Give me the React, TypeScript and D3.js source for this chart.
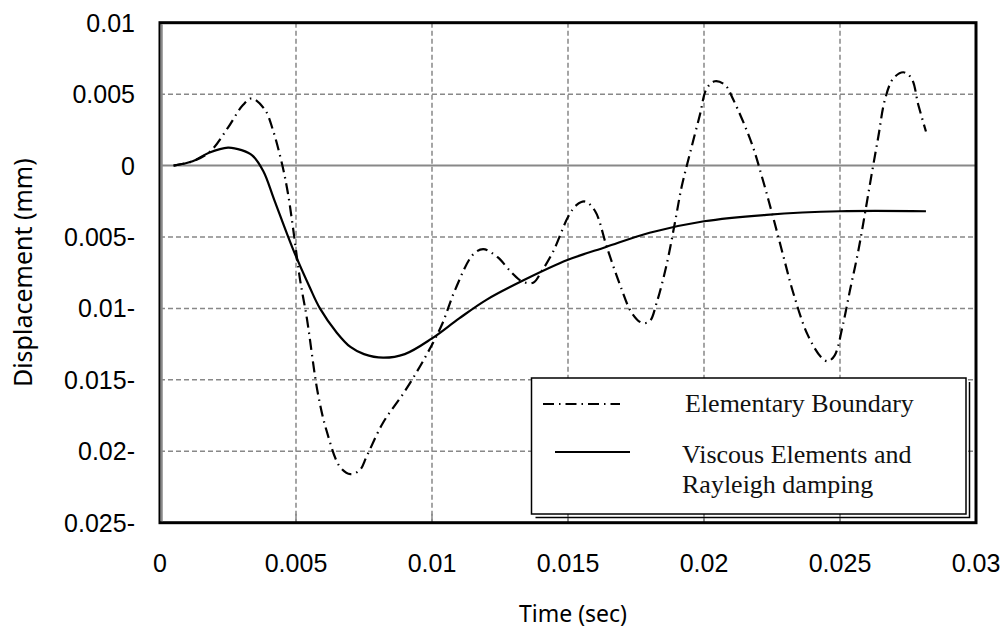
import React, { useEffect, useRef } from 'react'
import * as d3 from 'd3'

// time (sec) / displacement (mm)
const timeElementary = [
  0.0005, 0.0012, 0.00184, 0.0025, 0.00305, 0.00338, 0.00386, 0.00415, 0.0045, 0.0047,
  0.0049, 0.00515, 0.0054, 0.0058, 0.00613, 0.00662, 0.007, 0.00735, 0.0076, 0.0082,
  0.009, 0.00974, 0.01035, 0.01085, 0.0115, 0.01188, 0.0124, 0.01293, 0.0133, 0.01372,
  0.01403, 0.01446, 0.01501, 0.01532, 0.01563, 0.016, 0.01642, 0.01691, 0.01734, 0.01771,
  0.018, 0.01826, 0.01863, 0.01893, 0.01918, 0.01949, 0.01985, 0.0201, 0.0204, 0.02077,
  0.02108, 0.02175, 0.02218, 0.02255, 0.02292, 0.02328, 0.0238, 0.0243, 0.02455, 0.0248,
  0.0251, 0.02537, 0.02567, 0.02592, 0.02616, 0.02641, 0.02665, 0.02696, 0.02733, 0.02763,
  0.02788, 0.02816,
]
const dispElementary = [
  0, 0.0003, 0.00098, 0.00266, 0.00424, 0.0047, 0.0039, 0.0025, 0, -0.0019,
  -0.0045, -0.008, -0.0107, -0.0159, -0.0186, -0.0211, -0.0216, -0.0213, -0.02035, -0.018,
  -0.0158, -0.01345, -0.0112, -0.0087, -0.00625, -0.00585, -0.0064, -0.0075, -0.0081, -0.0082,
  -0.0074, -0.006, -0.00357, -0.00275, -0.00252, -0.0032, -0.00566, -0.00834, -0.0103, -0.011,
  -0.0109, -0.0096, -0.0069, -0.004, -0.00147, 0.0009, 0.00355, 0.0054, 0.0059, 0.00565,
  0.0046, 0.00157, -0.00112, -0.00368, -0.00636, -0.0089, -0.0118, -0.0134, -0.0137, -0.0133,
  -0.0112, -0.0087, -0.006, -0.00333, -0.00065, 0.00203, 0.0046, 0.0061, 0.00653, 0.0061,
  0.00424, 0.00238,
]

const timeViscous = [
  0.0005, 0.0012, 0.0018, 0.0025, 0.003, 0.0034, 0.0038, 0.0042, 0.0049, 0.0055,
  0.00588, 0.0065, 0.007, 0.0075, 0.0082, 0.009, 0.01, 0.011, 0.012, 0.0134,
  0.015, 0.0164, 0.018, 0.02, 0.0223, 0.025, 0.02816,
]
const dispViscous = [
  0, 0.0003, 0.0009, 0.00126, 0.00108, 0.0007, -0.0004, -0.0024, -0.0059, -0.0085,
  -0.01, -0.0117, -0.0127, -0.0132, -0.01345, -0.0132, -0.0121, -0.0107, -0.0094, -0.008,
  -0.0066, -0.0057, -0.0047, -0.0039, -0.00345, -0.0032, -0.0032,
]

const xTicks = [0, 0.005, 0.01, 0.015, 0.02, 0.025, 0.03]
const xTickLabels = ['0', '0.005', '0.01', '0.015', '0.02', '0.025', '0.03']
const yTicks = [0.01, 0.005, 0, -0.005, -0.01, -0.015, -0.02, -0.025]
const yTickLabels = ['0.01', '0.005', '0', '0.005-', '0.01-', '0.015-', '0.02-', '0.025-']

const legendLabels = ['Elementary Boundary', 'Viscous Elements and', 'Rayleigh damping']

const W = 1007
const H = 632
const DASHDOT = '11,5,1.5,5'

export default function App() {
  const svgRef = useRef<SVGSVGElement | null>(null)

  useEffect(() => {
    const svg = d3.select(svgRef.current!)
    svg.selectAll('*').remove()

    const x = d3.scaleLinear().domain([0, 0.03]).range([160, 976])
    const y = d3.scaleLinear().domain([-0.025, 0.01]).range([522.7, 22.7])
    const [x0, x1] = x.range()
    const [yb, yt] = y.range()

    svg.append('rect').attr('width', W).attr('height', H).attr('fill', '#fff')

    // grid
    const grid = svg.append('g').attr('stroke', '#888').attr('stroke-width', 1.5)
    grid.selectAll('.vg')
      .data(xTicks.slice(1, -1))
      .enter().append('line')
      .attr('x1', d => x(d)).attr('x2', d => x(d))
      .attr('y1', yt).attr('y2', yb)
      .attr('stroke-dasharray', '5,3')
    grid.selectAll('.hg')
      .data(yTicks.slice(1, -1).filter(d => d !== 0))
      .enter().append('line')
      .attr('x1', x0).attr('x2', x1)
      .attr('y1', d => y(d)).attr('y2', d => y(d))
      .attr('stroke-dasharray', '5,3')
    grid.append('line')
      .attr('x1', x0).attr('x2', x1)
      .attr('y1', y(0)).attr('y2', y(0))
      .attr('stroke-width', 2)
    // short solid ticks up from the bottom edge
    grid.selectAll('.bt')
      .data(xTicks.slice(1, -1))
      .enter().append('line')
      .attr('x1', d => x(d)).attr('x2', d => x(d))
      .attr('y1', yb - 9).attr('y2', yb)

    const pts = (ts: number[], vs: number[]) => ts.map((t, i) => [t, vs[i]] as [number, number])
    const line = d3.line<[number, number]>()
      .x(d => x(d[0])).y(d => y(d[1]))
      .curve(d3.curveCatmullRom.alpha(0.5))

    svg.append('path')
      .datum(pts(timeViscous, dispViscous))
      .attr('d', line)
      .attr('fill', 'none')
      .attr('stroke', '#000')
      .attr('stroke-width', 2.2)

    svg.append('path')
      .datum(pts(timeElementary, dispElementary))
      .attr('d', line)
      .attr('fill', 'none')
      .attr('stroke', '#000')
      .attr('stroke-width', 2.2)
      .attr('stroke-dasharray', DASHDOT)

    // legend
    const lg = svg.append('g')
    const lx0 = 531.5, lx1 = 966, ly0 = 378, ly1 = 514
    lg.append('path')
      .attr('d', `M${lx0 + 4},${ly1 + 3.5}H${lx1 + 3.5}V${ly0 + 4}`)
      .attr('fill', 'none').attr('stroke', '#000').attr('stroke-width', 1.5)
    lg.append('rect')
      .attr('x', lx0).attr('y', ly0)
      .attr('width', lx1 - lx0).attr('height', ly1 - ly0)
      .attr('fill', '#fff').attr('stroke', '#000').attr('stroke-width', 1.5)
    lg.append('line')
      .attr('x1', 543).attr('x2', 620).attr('y1', 404).attr('y2', 404)
      .attr('stroke', '#000').attr('stroke-width', 2).attr('stroke-dasharray', DASHDOT)
    lg.append('line')
      .attr('x1', 555).attr('x2', 630).attr('y1', 452).attr('y2', 452)
      .attr('stroke', '#000').attr('stroke-width', 2)
    lg.selectAll('text')
      .data(legendLabels)
      .enter().append('text')
      .attr('x', (d, i) => (i === 0 ? 685 : 682))
      .attr('y', (d, i) => [412, 463, 493][i])
      .attr('font-family', '"Liberation Serif", "Times New Roman", serif')
      .attr('font-size', 26)
      .attr('fill', '#111')
      .text(d => d)

    // frame
    svg.append('rect')
      .attr('x', x0).attr('y', yt)
      .attr('width', x1 - x0).attr('height', yb - yt)
      .attr('fill', 'none').attr('stroke', '#000').attr('stroke-width', 3)
    svg.append('line')
      .attr('x1', x0 + 1.5).attr('x2', x0 + 1.5).attr('y1', yt + 1.5).attr('y2', yb - 1.5)
      .attr('stroke', '#888').attr('stroke-width', 2.5)

    // tick labels
    const lab = svg.append('g')
      .attr('font-family', '"Liberation Sans", Arial, sans-serif')
      .attr('font-size', 25)
      .attr('fill', '#000')
    lab.selectAll('.xl')
      .data(xTicks)
      .enter().append('text')
      .attr('x', d => x(d))
      .attr('y', 572)
      .attr('text-anchor', 'middle')
      .text((d, i) => xTickLabels[i])
    lab.selectAll('.yl')
      .data(yTicks)
      .enter().append('text')
      .attr('x', 135)
      .attr('y', d => y(d) + 9)
      .attr('text-anchor', 'end')
      .text((d, i) => yTickLabels[i])

    // axis titles
    const titles = svg.append('g')
      .attr('font-family', '"Noto Sans", "Open Sans", sans-serif')
      .attr('fill', '#000')
    titles.append('text')
      .attr('x', (x0 + x1) / 2 + 5)
      .attr('y', 622)
      .attr('font-size', 23)
      .attr('text-anchor', 'middle')
      .text('Time (sec)')
    titles.append('text')
      .attr('transform', `translate(32,${(yt + yb) / 2}) rotate(-90)`)
      .attr('font-size', 25)
      .attr('text-anchor', 'middle')
      .text('Displacement (mm)')
  }, [])

  return (
    <svg
      ref={svgRef}
      width={W}
      height={H}
      style={{ position: 'absolute', left: 0, top: 0 }}
    />
  )
}
